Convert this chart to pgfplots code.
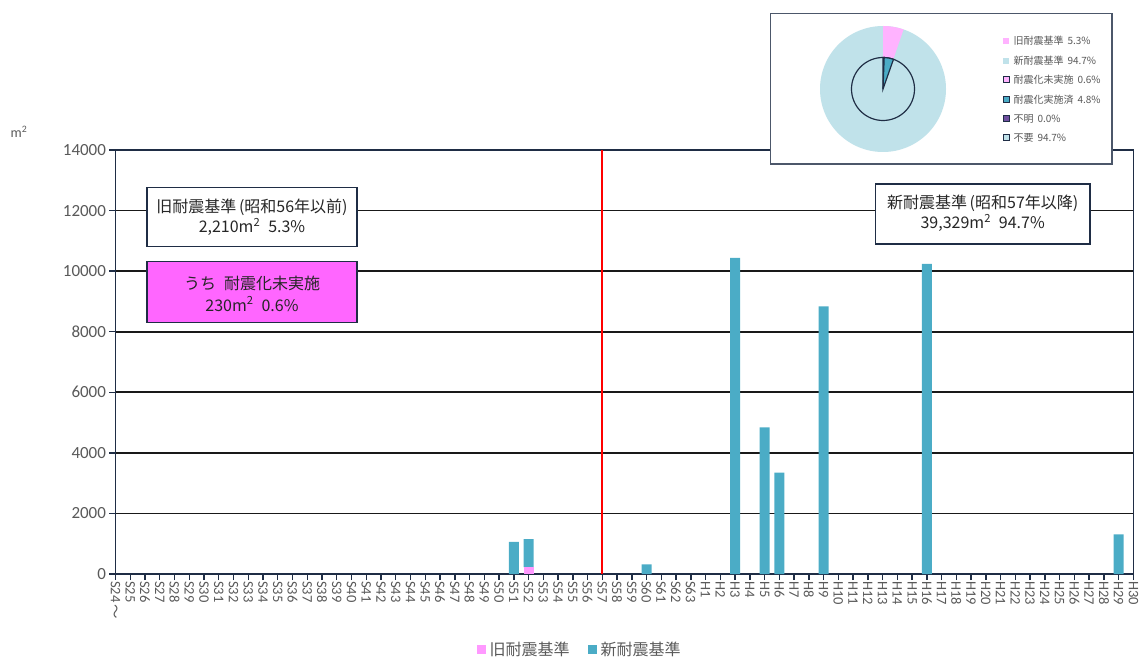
\documentclass[border=0pt]{standalone}
\usepackage{fontspec}
\setmainfont{Carlito}
\newfontfamily\jp{Noto Sans CJK JP}
\usepackage{pgfplots}
\usepackage{pgfplotstable}
\pgfplotsset{compat=1.18}

\definecolor{newstd}{HTML}{4BACC6}
\definecolor{oldstd}{HTML}{FF99FF}
\definecolor{boxpink}{HTML}{FF66FF}
\definecolor{pielight}{HTML}{C0E2EA}
\definecolor{piepink}{HTML}{FFB3FF}
\definecolor{piepurple}{HTML}{6F4F9F}
\definecolor{navy}{HTML}{1F2D45}
\definecolor{labelgray}{HTML}{595959}
\definecolor{boxtext}{HTML}{262626}

% floor area by construction year (index 0 = S24 ... 39 = S63, 40 = H1 ... 69 = H30)
\pgfplotstableread{
idx old new
27 0   1060
28 230 920
36 0   320
42 0   10440
44 0   4843
45 0   3345
48 0   8840
55 0   10240
68 0   1310
}\floortable

% shares for the inset pie (percent)
\def\shareOld{5.3}
\def\shareNew{94.7}
\def\shareNotDone{0.6}
\def\shareDone{4.8}

\begin{document}
\begin{tikzpicture}[x=1pt,y=1pt]
\path (0,0) rectangle (1144,658);

\begin{axis}[
  at={(115.5pt,84pt)}, anchor=south west,
  scale only axis, width=1018pt, height=424pt,
  xmin=0, xmax=69, ymin=0, ymax=14000,
  ybar stacked, bar width=10pt,
  xtick={0,...,69},
  xticklabels={S24\,{\jp ～},S25,S26,S27,S28,S29,S30,S31,S32,S33,S34,S35,S36,S37,S38,S39,S40,S41,S42,S43,S44,S45,S46,S47,S48,S49,S50,S51,S52,S53,S54,S55,S56,S57,S58,S59,S60,S61,S62,S63,H1,H2,H3,H4,H5,H6,H7,H8,H9,H10,H11,H12,H13,H14,H15,H16,H17,H18,H19,H20,H21,H22,H23,H24,H25,H26,H27,H28,H29,H30},
  ytick={0,2000,...,14000},
  ymajorgrids, grid style={draw=black!90, line width=1.8pt},
  axis line style={draw=navy, line width=1.6pt},
  tick style={draw=navy, line width=1.4pt},
  major tick length=6pt, tick align=outside,
  xtick pos=bottom, ytick pos=left,
  x tick label style={rotate=-90, anchor=west, font=\fontsize{14.5}{15}\selectfont, text=labelgray, inner sep=1pt},
  y tick label style={font=\fontsize{17}{18}\selectfont, text=labelgray},
  /pgf/number format/assume math mode=true,
  /pgf/number format/set thousands separator={},
  scaled y ticks=false,
  legend style={at={(0.456,-0.179)}, anchor=center, draw=none, fill=none,
    legend columns=2, font=\jp\fontsize{16}{17}\selectfont, text=labelgray,
    /tikz/every even column/.append style={column sep=16pt}},
  legend image code/.code={\fill[#1] (0pt,-4.5pt) rectangle (9pt,4.5pt);},
]
\addplot[fill=oldstd, draw=none] table[x=idx, y=old] {\floortable};
\addplot[fill=newstd, draw=none] table[x=idx, y=new] {\floortable};
\addlegendentry{\hspace{2pt}旧耐震基準}
\addlegendentry{\hspace{2pt}新耐震基準}
\draw[red, line width=2pt] (axis cs:33,0) -- (axis cs:33,14000);
\end{axis}

% unit label
\node[font=\fontsize{14}{15}\selectfont, text=labelgray] at (19,526) {m\textsuperscript{2}};

% annotation boxes
\tikzset{boxlabel/.style={font=\jp\fontsize{16}{17}\selectfont, text=boxtext}}
\filldraw[fill=white, draw=navy, line width=1.4pt] (147,470.7) rectangle (357,411.3);
\node[boxlabel] at (252,451) {旧耐震基準\,(昭和56年以前)};
\node[boxlabel] at (252,431.3) {2,210m\textsuperscript{2}\hspace{8pt}5.3\%};

\filldraw[fill=boxpink, draw=navy, line width=1.4pt] (147,396.3) rectangle (357,335.7);
\node[boxlabel] at (252,375) {うち\hspace{8pt}耐震化未実施};
\node[boxlabel] at (252,354) {230m\textsuperscript{2}\hspace{8pt}0.6\%};

\filldraw[fill=white, draw=navy, line width=1.4pt] (875.5,474) rectangle (1090,414);
\node[boxlabel] at (982.7,454.7) {新耐震基準\,(昭和57年以降)};
\node[boxlabel] at (982.7,435.3) {39,329m\textsuperscript{2}\hspace{8pt}94.7\%};

% inset with the share pie
\filldraw[fill=white, draw=navy!80, line width=1.4pt] (770.7,644.7) rectangle (1112,494);

\begin{axis}[
  at={(883pt,569pt)}, anchor=center, hide axis, scale only axis,
  width=126pt, height=126pt, xmin=-1, xmax=1, ymin=-1, ymax=1, clip=false,
]
% outer ring: old / new standard
\fill[pielight] (axis cs:0,0) circle[radius=63pt];
\fill[piepink] (axis cs:0,0) -- ++(90:63pt) arc[start angle=90, delta angle={-3.6*\shareOld}, radius=63pt] -- cycle;
% inner pie: retrofit status
\filldraw[fill=pielight, draw=navy, line width=1.2pt] (axis cs:0,0) circle[radius=31.5pt];
\filldraw[fill=piepink, draw=navy, line width=1.2pt] (axis cs:0,0) -- ++(90:31.5pt) arc[start angle=90, delta angle={-3.6*\shareNotDone}, radius=31.5pt] -- cycle;
\filldraw[fill=newstd, draw=navy, line width=1.2pt] (axis cs:0,0) -- ++({90-3.6*\shareNotDone}:31.5pt) arc[start angle={90-3.6*\shareNotDone}, delta angle={-3.6*\shareDone}, radius=31.5pt] -- cycle;
\end{axis}

% inset legend
\begin{scope}[font=\jp\fontsize{10}{11}\selectfont, text=labelgray]
\fill[piepink] (1003,614) rectangle (1009,620);
\node[anchor=west] at (1010,617) {旧耐震基準\hspace{4pt}5.3\%};
\fill[pielight] (1003,594.3) rectangle (1009,600.3);
\node[anchor=west] at (1010,597.3) {新耐震基準\hspace{4pt}94.7\%};
\filldraw[fill=piepink, draw=navy, line width=1pt] (1003,575) rectangle (1009,581);
\node[anchor=west] at (1010,578) {耐震化未実施\hspace{4pt}0.6\%};
\filldraw[fill=newstd, draw=navy, line width=1pt] (1003,555.7) rectangle (1009,561.7);
\node[anchor=west] at (1010,558.7) {耐震化実施済\hspace{4pt}4.8\%};
\filldraw[fill=piepurple, draw=navy, line width=1pt] (1003,536.3) rectangle (1009,542.3);
\node[anchor=west] at (1010,539.3) {不明\hspace{4pt}0.0\%};
\filldraw[fill=pielight, draw=navy, line width=1pt] (1003,517) rectangle (1009,523);
\node[anchor=west] at (1010,520) {不要\hspace{4pt}94.7\%};
\end{scope}
\end{tikzpicture}
\end{document}
